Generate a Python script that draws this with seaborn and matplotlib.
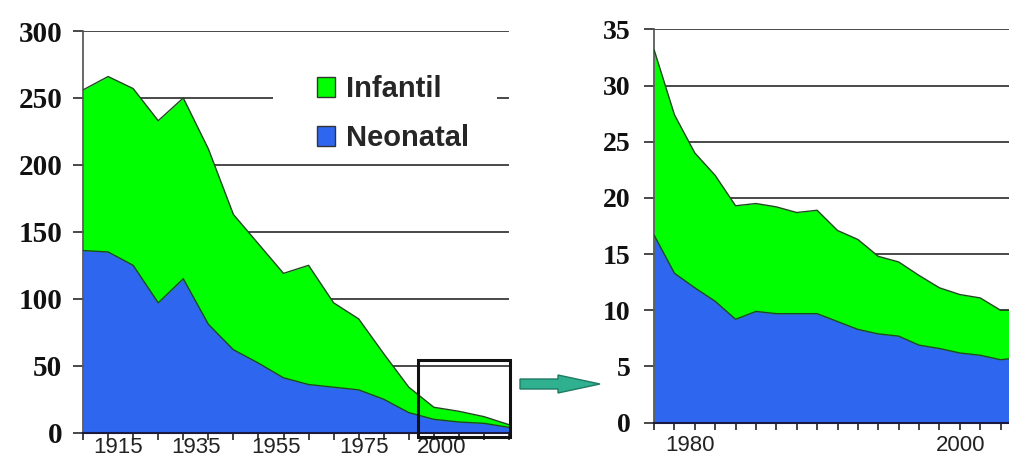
import matplotlib
matplotlib.use("Agg")
from matplotlib import pyplot as plt
from matplotlib.patches import Patch, Rectangle, FancyArrow
from matplotlib.transforms import IdentityTransform
import seaborn as sns
import pandas as pd

# Série completa (eixo de categorias, um ponto por marca)
pontos_total = list(range(18))
infantil_total = [256, 266, 257, 233, 250, 212, 163, 141, 119, 125, 97, 85, 59, 34, 19, 16, 12, 6]
neonatal_total = [136, 135, 125, 97, 115, 81, 62, 52, 41, 36, 34, 32, 25, 15, 10, 8, 7, 4]
rotulos_total = ["1915", "1935", "1955", "1975", "2000"]
pos_rotulos_total = [1.4, 4.5, 7.7, 11.2, 14.3]
yticks_total = [0, 50, 100, 150, 200, 250, 300]

# Detalhe ampliado (período recente)
pontos_zoom = list(range(19))
infantil_zoom = [33.2, 27.4, 24.0, 22.0, 19.3, 19.5, 19.2, 18.7, 18.9, 17.1, 16.3,
                 14.8, 14.3, 13.1, 12.0, 11.4, 11.1, 10.0, 10.0]
neonatal_zoom = [16.7, 13.3, 12.0, 10.8, 9.2, 9.9, 9.7, 9.7, 9.7, 9.0, 8.3,
                 7.9, 7.7, 6.9, 6.6, 6.2, 6.0, 5.6, 5.8]
rotulos_zoom = ["1980", "2000"]
pos_rotulos_zoom = [1.74, 15.05]
yticks_zoom = [0, 5, 10, 15, 20, 25, 30, 35]

VERDE = "#00ff00"
AZUL = "#2e66f0"
CONTORNO = "#1f4a1f"
GRADE = "#3a3a3a"


def desenhar(ax, x, infantil, neonatal):
    df = pd.DataFrame({"x": x, "Infantil": infantil, "Neonatal": neonatal})
    ax.fill_between(df["x"], df["Infantil"], color=VERDE, lw=0, zorder=1)
    ax.fill_between(df["x"], df["Neonatal"], color=AZUL, lw=0, zorder=2)
    sns.lineplot(data=df, x="x", y="Infantil", ax=ax, color=CONTORNO, lw=1, zorder=3)
    sns.lineplot(data=df, x="x", y="Neonatal", ax=ax, color=CONTORNO, lw=1, zorder=3)
    ax.set_xlabel("")
    ax.set_ylabel("")


def eixos(ax, yticks, pos_rot, rotulos, xticks, ypad, xpad, ysize, xsize):
    ax.set_axisbelow(True)
    ax.yaxis.grid(True, color=GRADE, lw=1.3)
    ax.xaxis.grid(False)
    for lado in ["top", "right"]:
        ax.spines[lado].set_visible(False)
    ax.spines["left"].set_color("#555555")
    ax.spines["bottom"].set_color("#1a1a40")
    ax.spines["bottom"].set_linewidth(1.5)
    ax.set_yticks(yticks, labels=[str(v) for v in yticks], fontfamily="Liberation Serif",
                  fontweight="bold", fontsize=ysize, color="#111111")
    ax.tick_params(axis="y", left=True, direction="out", length=7, width=1.3, color=GRADE, pad=ypad)
    ax.set_xticks(xticks, labels=[""] * len(xticks))
    ax.tick_params(axis="x", which="major", bottom=True, direction="out", length=5, width=1.2,
                   color="#222222")
    ax.set_xticks(pos_rot, labels=rotulos, minor=True, fontfamily="Liberation Sans",
                  fontsize=xsize, color="#222222")
    ax.tick_params(axis="x", which="minor", bottom=True, length=0, pad=xpad)


def main():
    sns.set_theme(style="white")
    fig = plt.figure(figsize=(10.09, 4.58), dpi=100)

    ax1 = fig.add_axes([0.0823, 0.0552, 0.4222, 0.8771])
    desenhar(ax1, pontos_total, infantil_total, neonatal_total)
    ax1.set_xlim(0, 17)
    ax1.set_ylim(0, 300)
    eixos(ax1, yticks_total, pos_rotulos_total, rotulos_total, pontos_total, 8, 3, 21, 16)

    # fundo branco da legenda (esconde a grade)
    ax1.add_patch(Rectangle((0.446, 0.70), 0.526, 0.25, transform=ax1.transAxes,
                            facecolor="white", edgecolor="none", zorder=2))
    alcas = [Patch(facecolor=VERDE, edgecolor="#333333", label="Infantil"),
             Patch(facecolor=AZUL, edgecolor="#333333", label="Neonatal")]
    ax1.legend(handles=alcas, loc="upper left", bbox_to_anchor=(0.55, 0.89), frameon=False,
               prop=dict(family="Liberation Sans", weight="bold", size=21),
               handlelength=0.62, handleheight=0.72, handletextpad=0.35,
               labelspacing=0.72, borderpad=0, borderaxespad=0)

    # caixa de destaque do período ampliado
    ax1.add_patch(Rectangle((13.37, -3.2), 3.67, 57.5, fill=False, edgecolor="#111111",
                            lw=2.2, clip_on=False, zorder=6))

    ax2 = fig.add_axes([0.6482, 0.0771, 0.3637, 0.8589])
    desenhar(ax2, pontos_zoom, infantil_zoom, neonatal_zoom)
    ax2.set_xlim(0, 18)
    ax2.set_ylim(0, 35)
    eixos(ax2, yticks_zoom, pos_rotulos_zoom, rotulos_zoom, pontos_zoom, 10, 9, 20, 16)

    seta = FancyArrow(520, 74, 80, 0, width=10, head_width=18, head_length=42,
                      length_includes_head=True, transform=IdentityTransform(),
                      facecolor="#2fb08f", edgecolor="#1f7a66", lw=1)
    fig.patches.append(seta)

    fig.savefig("out.png", dpi=100)


if __name__ == "__main__":
    main()
